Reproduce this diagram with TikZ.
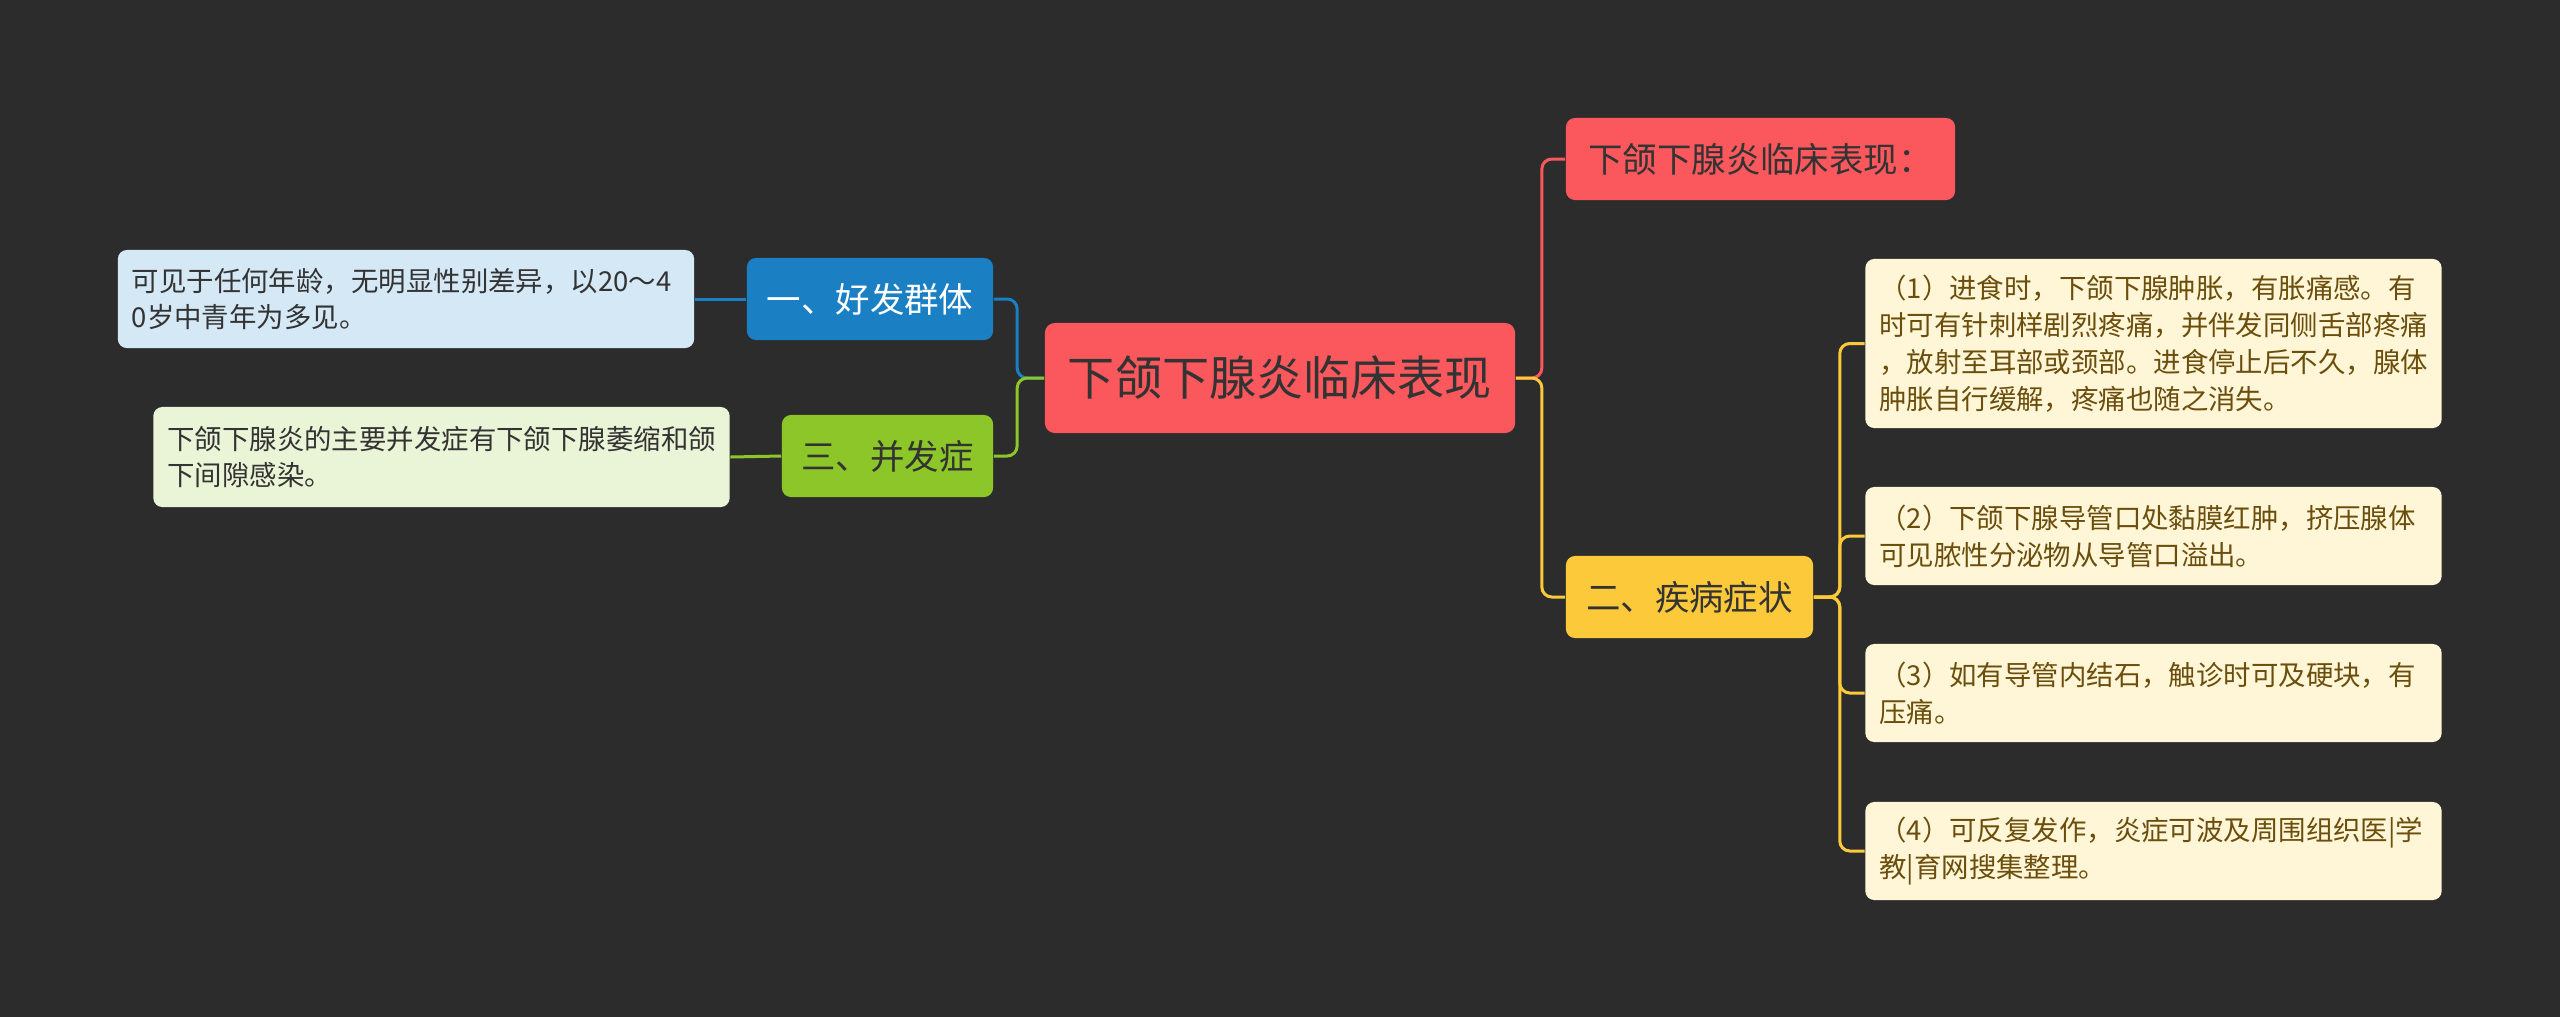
\documentclass[tikz,border=0pt]{standalone}
\usepackage{fontspec}
\setmainfont{Noto Sans CJK SC}
\usepackage{tikz}
\usetikzlibrary{positioning, calc}
\definecolor{bgdark}{RGB}{44,44,44}
\definecolor{myred}{RGB}{250,88,92}
\definecolor{mytext}{RGB}{51,51,51}
\definecolor{myblue}{RGB}{27,127,196}
\definecolor{lightblue}{RGB}{212,232,245}
\definecolor{mygreen}{RGB}{140,198,40}
\definecolor{lightgreen}{RGB}{234,244,214}
\definecolor{myyellow}{RGB}{252,201,58}
\definecolor{cream}{RGB}{255,246,216}
\definecolor{mybrown}{RGB}{107,78,12}
\tikzset{
  rootbox/.style={rectangle, rounded corners=0.1cm, fill=myred, text=mytext,
    minimum width=4.70cm, minimum height=1.10cm,
    font=\fontsize{13.4pt}{16pt}\selectfont},
  topic/.style={rectangle, rounded corners=0.09cm, minimum height=0.82cm,
    inner xsep=0.1cm, font=\fontsize{9.8pt}{12pt}\selectfont},
  leaf/.style={rectangle, rounded corners=0.09cm, align=left,
    text width=5.48cm, inner xsep=0.14cm,
    font=\fontsize{7.8pt}{10.5pt}\selectfont},
  link/.style={line width=0.03cm, rounded corners=0.1cm}
}
\begin{document}
\begin{tikzpicture}[x=0.01cm, y=-0.01cm]
  \fill[bgdark] (0,0) rectangle (2560,1017);

  \node[rootbox] (root) at (1280,378) {下颌下腺炎临床表现};

  % left branches
  \node[topic, fill=myblue, text=white, minimum width=2.46cm] (grp) at (870,299) {一、好发群体};
  \node[topic, fill=mygreen, text=mytext, minimum width=2.11cm] (cmp) at (887.5,456) {三、并发症};
  \node[leaf, fill=lightblue, text=mytext, minimum height=0.98cm] (grpnote) at (406,299)
    {可见于任何年龄，无明显性别差异，以20～4\\0岁中青年为多见。};
  \node[leaf, fill=lightgreen, text=mytext, minimum height=1.00cm] (cmpnote) at (441.5,457)
    {下颌下腺炎的主要并发症有下颌下腺萎缩和颌\\下间隙感染。};

  \draw[link, draw=myblue] (root.west) -- ++(-27,0) |- (grp.east);
  \draw[link, draw=mygreen] (root.west) -- ++(-27,0) |- (cmp.east);
  \draw[link, draw=myblue] (grp.west) -- (grpnote.east);
  \draw[link, draw=mygreen] (cmp.west) -- (cmpnote.east);

  % right branches
  \node[topic, fill=myred, text=mytext, minimum width=3.89cm] (cl) at (1760.5,159) {下颌下腺炎临床表现：};
  \node[topic, fill=myyellow, text=mytext, minimum width=2.47cm] (sym) at (1689.5,597) {二、疾病症状};
  \node[leaf, fill=cream, text=mybrown, minimum height=1.69cm] (s1) at (2153.5,343.5)
    {（1）进食时，下颌下腺肿胀，有胀痛感。有\\时可有针刺样剧烈疼痛，并伴发同侧舌部疼痛\\，放射至耳部或颈部。进食停止后不久，腺体\\肿胀自行缓解，疼痛也随之消失。};
  \node[leaf, fill=cream, text=mybrown, minimum height=0.98cm] (s2) at (2153.5,536)
    {（2）下颌下腺导管口处黏膜红肿，挤压腺体\\可见脓性分泌物从导管口溢出。};
  \node[leaf, fill=cream, text=mybrown, minimum height=0.98cm] (s3) at (2153.5,693)
    {（3）如有导管内结石，触诊时可及硬块，有\\压痛。};
  \node[leaf, fill=cream, text=mybrown, minimum height=0.98cm] (s4) at (2153.5,851)
    {（4）可反复发作，炎症可波及周围组织医|学\\教|育网搜集整理。};

  \draw[link, draw=myred] (root.east) -- ++(26,0) |- (cl.west);
  \draw[link, draw=myyellow] (root.east) -- ++(26,0) |- (sym.west);
  \draw[link, draw=myyellow] (sym.east) -- ++(26,0) |- (s1.west);
  \draw[link, draw=myyellow] (sym.east) -- ++(26,0) |- (s2.west);
  \draw[link, draw=myyellow] (sym.east) -- ++(26,0) |- (s3.west);
  \draw[link, draw=myyellow] (sym.east) -- ++(26,0) |- (s4.west);
\end{tikzpicture}
\end{document}
